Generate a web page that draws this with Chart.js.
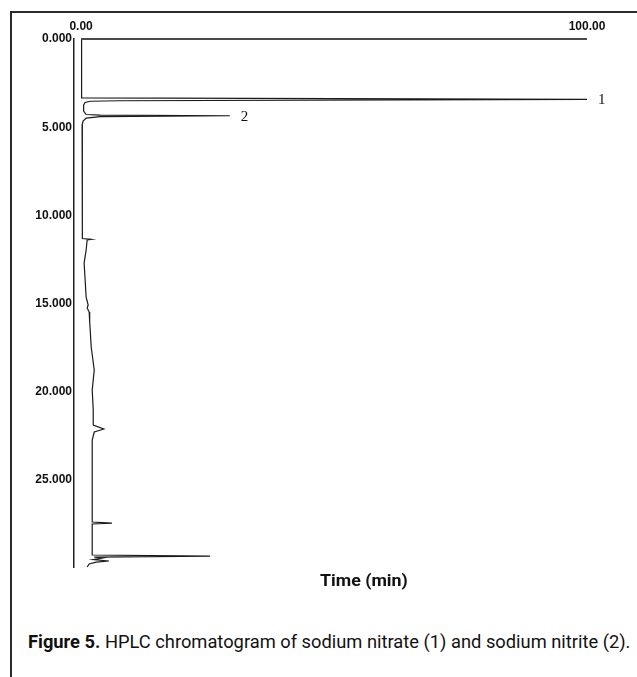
<!DOCTYPE html>
<html>
<head>
<meta charset="utf-8">
<title>HPLC chromatogram</title>
<script src="https://cdn.jsdelivr.net/npm/chart.js@4.4.1/dist/chart.umd.min.js"></script>
<style>
  html, body { margin: 0; padding: 0; background: #fff; }
  body { position: relative; width: 637px; height: 677px; overflow: hidden; }
  #frame {
    position: absolute; left: 10px; top: 11px; width: 700px; height: 700px;
    border-top: 2px solid #2b2b2b; border-left: 2px solid #2b2b2b;
  }
  #chart { position: absolute; left: 0; top: 0; }
  #xtitle {
    position: absolute; left: 320px; top: 570px; white-space: nowrap; transform-origin: 0 0;
    font: bold 17px 'Liberation Sans Narrow', 'Roboto', sans-serif; color: #111;
  }
  #caption {
    position: absolute; left: 28px; top: 630px; white-space: nowrap; transform-origin: 0 0;
    font: 19px 'Liberation Sans Narrow', 'Roboto', sans-serif; color: #111;
  }
</style>
</head>
<body>
<div id="frame"></div>
<canvas id="chart" width="637" height="600"></canvas>
<div id="xtitle">Time (min)</div>
<div id="caption"><b>Figure 5.</b> HPLC chromatogram of sodium nitrate (1) and sodium nitrite (2).</div>
<script>
// Eixos
const timeTicks = [0, 5, 10, 15, 20, 25];
const responseTicks = [0, 100];
const timeMax = 29.93;

// Traço do cromatograma (tempo em min, resposta em % da escala)
const traceTime = [
  0, 3.34, 3.42, 3.50, 3.53, 3.60, 3.74, 4.08, 4.28, 4.31, 4.35, 4.40, 4.48, 4.65, 4.88,
  11.31, 11.36, 11.39, 11.96, 12.70, 13.66, 14.63, 15.08, 15.25, 15.48, 16.04, 16.50,
  17.46, 18.76, 19.90, 21.03, 21.88, 22.11, 22.28, 22.73, 27.38, 27.44, 27.49,
  29.25, 29.31, 29.37, 29.42, 29.51, 29.59, 29.65, 29.76, 29.93
];
const traceResponse = [
  0.1, 0.1, 100, 7.7, 1.8, 0.8, 0.5, 0.5, 1.0, 3.8, 29.4, 3.8, 1.0, 0.4, 0.2,
  0.25, 2.0, 1.2, 1.0, 0.6, 0.8, 1.0, 1.4, 1.2, 1.6, 1.7, 1.8,
  2.0, 2.6, 2.2, 2.4, 2.4, 4.5, 2.6, 2.2, 2.2, 6.1, 2.2,
  2.2, 25.5, 2.6, 4.3, 2.4, 5.5, 3.0, 1.6, 1.2
];

// Picos identificados
const peakNames = ['1', '2'];
const peakTime = [3.42, 4.35];
const peakResponse = [100, 29.4];

// textos condensados: ajusta a largura ao original
function fitWidth(id, target) {
  const el = document.getElementById(id);
  el.style.transform = 'scaleX(' + (target / el.offsetWidth) + ')';
}
fitWidth('xtitle', 88);
fitWidth('caption', 602);

const peakLabels = {
  id: 'peakLabels',
  afterDatasetsDraw(chart) {
    const { ctx, scales: { x, y } } = chart;
    ctx.save();
    ctx.font = '15px "Liberation Serif", serif';
    ctx.fillStyle = '#111';
    ctx.textBaseline = 'middle';
    peakNames.forEach((name, i) => {
      ctx.fillText(name, x.getPixelForValue(peakResponse[i]) + 11, y.getPixelForValue(peakTime[i]) + 1);
    });
    ctx.restore();
  }
};

new Chart(document.getElementById('chart'), {
  type: 'scatter',
  data: {
    datasets: [
      {
        label: 'axis',
        data: responseTicks.map(v => ({ x: v, y: timeTicks[0] })),
        showLine: true,
        borderColor: '#4a4a4a',
        borderWidth: 2,
        pointRadius: 0,
        clip: 4
      },
      {
        label: 'trace',
        data: traceTime.map((t, i) => ({ x: traceResponse[i], y: t })),
        showLine: true,
        borderColor: '#1a1a1a',
        borderWidth: 1.2,
        pointRadius: 0,
        tension: 0,
        clip: 6
      }
    ]
  },
  options: {
    responsive: false,
    animation: false,
    layout: { padding: { left: 0, top: 0, right: 50, bottom: 33 } },
    plugins: { legend: { display: false }, tooltip: { enabled: false } },
    scales: {
      x: {
        type: 'linear',
        position: 'top',
        min: -1.4,
        max: 100,
        grid: { display: false, drawTicks: false },
        border: { display: false },
        afterBuildTicks: s => { s.ticks = responseTicks.map(v => ({ value: v })); },
        afterFit: s => { s.height = 39; },
        ticks: {
          padding: 5,
          color: '#111',
          font: { family: 'Liberation Sans, Arial, sans-serif', size: 12, weight: 'bold' },
          callback: v => v.toFixed(2)
        }
      },
      y: {
        type: 'linear',
        reverse: true,
        min: 0,
        max: timeMax,
        grid: { display: false, drawTicks: false },
        border: { display: true, color: '#222', width: 1.5 },
        afterBuildTicks: s => { s.ticks = timeTicks.map(v => ({ value: v })); },
        afterFit: s => { s.width = 74; },
        ticks: {
          padding: 2,
          color: '#111',
          font: { family: 'Liberation Sans, Arial, sans-serif', size: 12, weight: 'bold' },
          callback: v => v.toFixed(3)
        }
      }
    }
  },
  plugins: [peakLabels]
});
</script>
</body>
</html>
